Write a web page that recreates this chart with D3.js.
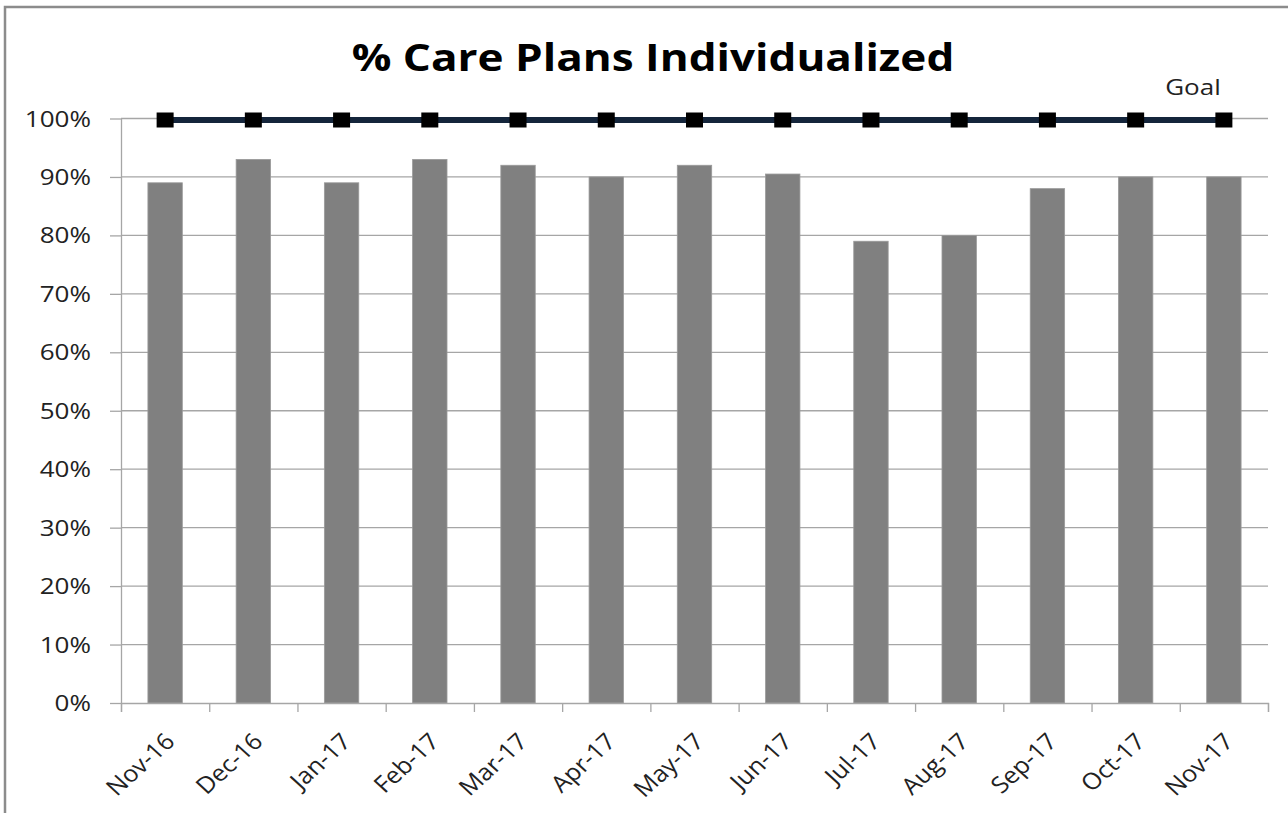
<!DOCTYPE html>
<html><head><meta charset="utf-8">
<script src="https://cdn.jsdelivr.net/npm/d3@7"></script>
<style>body{margin:0;background:#fff}svg{display:block}</style>
</head><body><svg id="c" width="1288" height="813"></svg>
<script>
const categories = ["Nov-16","Dec-16","Jan-17","Feb-17","Mar-17","Apr-17","May-17","Jun-17","Jul-17","Aug-17","Sep-17","Oct-17","Nov-17"];
const actual = [89, 93, 89, 93, 92, 90, 92, 90.5, 79, 80, 88, 90, 90];
const goal = [100,100,100,100,100,100,100,100,100,100,100,100,100];
const yTicks = [0,10,20,30,40,50,60,70,80,90,100];

const svg = d3.select("#c");
const font = "'Open Sans', 'DejaVu Sans', sans-serif";
const SX = 1.24;
const m = {l:121, r:1268, t:118.5, b:703};

svg.append("rect").attr("x",5).attr("y",7).attr("width",1300).attr("height",820)
  .attr("fill","#fff").attr("stroke","#8c8c8c").attr("stroke-width",2.5);

const x = d3.scaleBand().domain(categories).range([m.l,m.r]).paddingInner(0.61).paddingOuter(0.305);
const xc = d3.scalePoint().domain(categories).range([m.l,m.r]).padding(0.5);
const y = d3.scaleLinear().domain([0,100]).range([m.b,m.t]);

// gridlines
svg.append("g").selectAll("line").data(yTicks.filter(d=>d>0)).join("line")
  .attr("x1",m.l).attr("x2",m.r).attr("y1",d=>y(d)).attr("y2",d=>y(d))
  .attr("stroke","#a6a6a6").attr("stroke-width",1.3);

// y axis
const ya = svg.append("g").attr("transform",`translate(${m.l},0)`)
  .call(d3.axisLeft(y).tickValues(yTicks).tickFormat(d=>d+"%").tickSize(11).tickSizeOuter(0));
ya.select(".domain").attr("stroke","#a6a6a6").attr("stroke-width",1.3);
ya.selectAll(".tick line").attr("stroke","#a6a6a6").attr("stroke-width",1.3);
ya.selectAll("text").attr("font-family",font).attr("font-size",21).attr("fill","#222")
  .attr("x",0).attr("dy","0.36em").attr("transform",`translate(-30,0) scale(${SX},1)`);

// bars
svg.append("g").selectAll("rect").data(actual).join("rect")
  .attr("x",(d,i)=>x(categories[i])).attr("width",x.bandwidth())
  .attr("y",d=>y(d)).attr("height",d=>y(0)-y(d))
  .attr("fill","#808080").attr("stroke","#9a9a9a").attr("stroke-width",0.8);

// x axis
const xa = svg.append("g").attr("transform",`translate(0,${m.b})`)
  .call(d3.axisBottom(d3.scaleLinear().domain([0,categories.length]).range([m.l,m.r]))
    .tickValues(d3.range(0,categories.length+1)).tickSize(9).tickFormat(""));
xa.select(".domain").attr("stroke","#a6a6a6").attr("stroke-width",1.3);
xa.selectAll(".tick line").attr("stroke","#a6a6a6").attr("stroke-width",1.3);

svg.append("g").selectAll("text").data(categories).join("text")
  .attr("transform",d=>`translate(${xc(d)+11},${m.b+40}) scale(1.1,1) rotate(-45)`)
  .attr("text-anchor","end")
  .attr("font-family",font).attr("font-size",23).attr("fill","#222").text(d=>d);

// goal line
const line = d3.line().x((d,i)=>xc(categories[i])).y(d=>y(d)+1.5);
svg.append("path").datum(goal).attr("d",line).attr("fill","none")
  .attr("stroke","#14253b").attr("stroke-width",6);
svg.append("g").selectAll("rect").data(goal).join("rect")
  .attr("x",(d,i)=>xc(categories[i])-8.5).attr("y",d=>y(d)-6)
  .attr("width",17).attr("height",15).attr("fill","#000");

svg.append("text").attr("transform",`translate(1193,95) scale(${SX},1)`).attr("text-anchor","middle")
  .attr("font-family",font).attr("font-size",21).attr("fill","#222").text("Goal");

svg.append("text").attr("transform",`translate(653,71) scale(1.16,1)`).attr("text-anchor","middle")
  .attr("font-family",font).attr("font-size",38).attr("font-weight","bold").attr("fill","#000")
  .text("% Care Plans Individualized");
</script></body></html>
